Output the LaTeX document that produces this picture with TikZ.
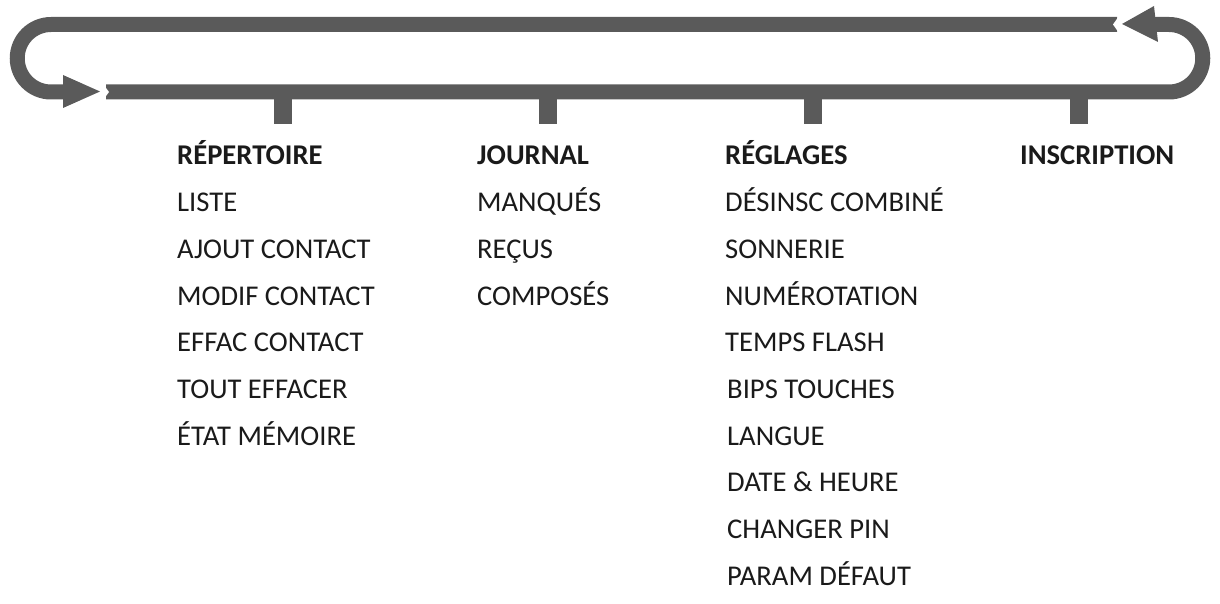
\documentclass[tikz,border=0pt]{standalone}
\usepackage{fontspec}
\setmainfont{Carlito}
\definecolor{bar}{HTML}{5A5A5A}
\definecolor{ink}{HTML}{1A1A1A}
\begin{document}
\begin{tikzpicture}[x=1pt,y=-1pt,
  loopline/.style={draw=bar,line width=15pt},
  shapefill/.style={fill=bar},
  head/.style={anchor=base west,inner sep=0pt,text=ink,font=\fontsize{28.6}{32}\selectfont\bfseries},
  item/.style={anchor=base west,inner sep=0pt,text=ink,font=\fontsize{28.6}{32}\selectfont}]
\useasboundingbox (0,0) rectangle (1220,604);
% loop
\draw[loopline] (1117,24.5) -- (51,24.5) arc[start angle=-90,end angle=-270,radius=33.75] -- (64,92);
\draw[loopline] (106,92) -- (1169,92) arc[start angle=90,end angle=-90,radius=33.75] -- (1150,24.5);
% white notches in bar ends
\fill[white] (103,84) -- (109,92) -- (103,100) -- (96,100) -- (96,84) -- cycle;
\fill[white] (1119,16) -- (1113,24.5) -- (1119,33) -- (1126,33) -- (1126,16) -- cycle;
% arrowheads
\fill[shapefill] (63,75) -- (100,91.5) -- (63,108) -- cycle;
\fill[shapefill] (1122,24) -- (1154,6) -- (1158,42) -- cycle;
% ticks
\foreach \x in {283,548,813,1079}
  \fill[shapefill] (\x-9,98) rectangle (\x+9,124);
% texts
\node[head] (rep) at (177,165) {RÉPERTOIRE};
\node[item] (r1) at (177,211.7) {LISTE};
\node[item] (r2) at (177,258.3) {AJOUT CONTACT};
\node[item] (r3) at (177,305) {MODIF CONTACT};
\node[item] (r4) at (177,351.7) {EFFAC CONTACT};
\node[item] (r5) at (177,398.3) {TOUT EFFACER};
\node[item] (r6) at (177,445) {ÉTAT MÉMOIRE};
\node[head] (jou) at (477,165) {JOURNAL};
\node[item] (j1) at (477,211.7) {MANQUÉS};
\node[item] (j2) at (477,258.3) {REÇUS};
\node[item] (j3) at (477,305) {COMPOSÉS};
\node[head] (reg) at (725,165) {RÉGLAGES};
\node[item] (g1) at (725,211.7) {DÉSINSC COMBINÉ};
\node[item] (g2) at (725,258.3) {SONNERIE};
\node[item] (g3) at (725,305) {NUMÉROTATION};
\node[item] (g4) at (725,351.7) {TEMPS FLASH};
\node[item] (g5) at (727,398.3) {BIPS TOUCHES};
\node[item] (g6) at (727,445) {LANGUE};
\node[item] (g7) at (727,491.7) {DATE \& HEURE};
\node[item] (g8) at (727,538.3) {CHANGER PIN};
\node[item] (g9) at (727,585) {PARAM DÉFAUT};
\node[head] (ins) at (1020,165) {INSCRIPTION};
\end{tikzpicture}
\end{document}
